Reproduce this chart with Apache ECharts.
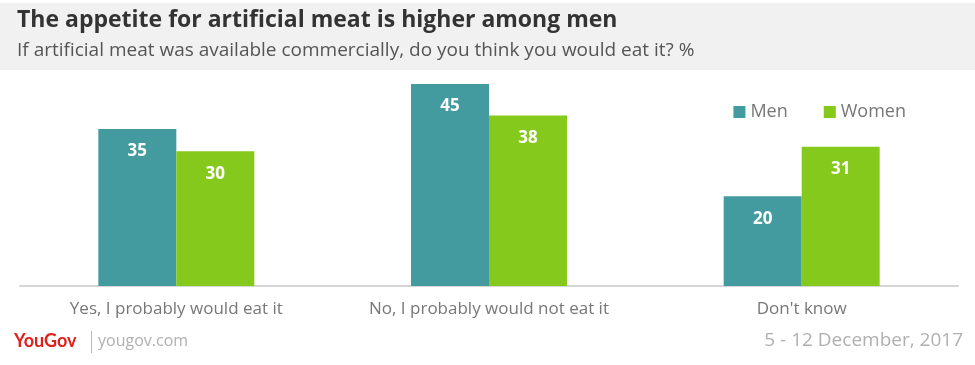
<!DOCTYPE html>
<html><head><meta charset="utf-8">
<script src="https://cdn.jsdelivr.net/npm/echarts@6/dist/echarts.min.js"></script>
<style>html,body{margin:0;padding:0;background:#fff}#c{width:975px;height:365px}</style>
</head><body><div id="c"></div>
<script>
const categories = ['Yes, I probably would eat it', 'No, I probably would not eat it', "Don't know"];
const menValues = [35, 45, 20];
const womenValues = [30, 38, 31];
const seriesNames = ['Men', 'Women'];

const chart = echarts.init(document.getElementById('c'));
const FONT = '"Open Sans", Lato, sans-serif';
chart.setOption({
  animation: false,
  backgroundColor: '#fff',
  graphic: [
    { type: 'rect', shape: { x: 0, y: 3, width: 975, height: 67 }, style: { fill: '#f1f1f1' }, z: -1 },
    { type: 'text', left: 14, top: 332, style: { text: 'YouGov', fill: '#e0201b', font: 'bold 18px Lato, sans-serif' } },
    { type: 'rect', shape: { x: 91, y: 331, width: 1, height: 22 }, style: { fill: '#bbb' } },
    { type: 'text', left: 98, top: 333, style: { text: 'yougov.com', fill: '#b0b0b0', font: '16px ' + FONT } },
    { type: 'text', right: 12, top: 331, style: { text: '5 - 12 December, 2017', fill: '#b0b0b0', font: '19px ' + FONT } }
  ],
  title: {
    text: 'The appetite for artificial meat is higher among men',
    subtext: 'If artificial meat was available commercially, do you think you would eat it? %',
    left: 12, top: 4, itemGap: 9,
    textStyle: { fontFamily: FONT, fontWeight: 'bold', fontSize: 23, color: '#333' },
    subtextStyle: { fontFamily: FONT, fontSize: 19, color: '#555' }
  },
  legend: {
    data: seriesNames, right: 64, top: 98, itemWidth: 12, itemHeight: 12, itemGap: 36,
    icon: 'rect',
    textStyle: { fontFamily: FONT, fontSize: 18, color: '#777' }
  },
  grid: { left: 20, right: 17, top: 84, bottom: 79, containLabel: false },
  xAxis: {
    type: 'category', data: categories,
    axisLine: { lineStyle: { color: '#d6d6d6', width: 2 } },
    axisTick: { show: false },
    axisLabel: { fontFamily: FONT, fontSize: 17, color: '#777', margin: 15 }
  },
  yAxis: { type: 'value', min: 0, max: 45, show: false, splitLine: { show: false } },
  series: [
    { name: 'Men', type: 'bar', data: menValues, barWidth: 78, barGap: '0%',
      itemStyle: { color: '#449b9f' },
      label: { show: true, position: 'insideTop', distance: 14, color: '#fff', fontFamily: FONT, fontWeight: 'bold', fontSize: 17 } },
    { name: 'Women', type: 'bar', data: womenValues, barWidth: 78, barGap: '0%',
      itemStyle: { color: '#86c91d' },
      label: { show: true, position: 'insideTop', distance: 14, color: '#fff', fontFamily: FONT, fontWeight: 'bold', fontSize: 17 } }
  ]
});
</script></body></html>
